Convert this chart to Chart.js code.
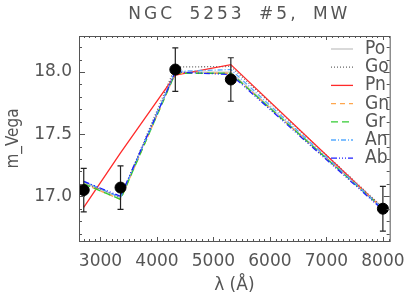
<!DOCTYPE html>
<html>
<head>
<meta charset="utf-8">
<script src="https://cdn.jsdelivr.net/npm/chart.js@4.4.0/dist/chart.umd.min.js"></script>
<style>
  html, body { margin: 0; padding: 0; background: #fff; }
  #wrap { width: 415px; height: 297px; }
</style>
</head>
<body>
<div id="wrap"><canvas id="sed" width="415" height="297"></canvas></div>
<script>
const titleText = "NGC 5253 #5, MW";
const wavelengths = [2704, 3355, 4325, 5308, 8000];
const observed = [17.05, 17.07, 18.02, 17.94, 16.90];
const obsErrors = [0.175, 0.175, 0.175, 0.175, 0.18];

const modelNames = ["Po", "Go", "Pn", "Gn", "Gr", "An", "Ab"];
const modelPo = [17.11, 16.99, 18.00, 18.00, 16.90];
const modelGo = [17.11, 16.99, 18.04, 18.045, 16.91];
const modelPn = [16.91, 17.35, 17.975, 18.06, 16.90];
const modelGn = [17.10, 16.975, 17.99, 17.99, 16.90];
const modelGr = [17.10, 16.975, 17.99, 17.99, 16.90];
const modelAn = [17.12, 16.99, 18.005, 18.02, 16.90];
const modelAb = [17.12, 17.00, 18.00, 17.98, 16.89];

const xTicks = [3000, 4000, 5000, 6000, 7000, 8000];
const yTicks = [17.0, 17.5, 18.0];

const axisColor = "#555";
const textColor = "#555";
const tickFont = { family: "DejaVu Sans", size: 17 };

const toPoints = (ys) => wavelengths.map((x, i) => ({ x, y: ys[i] }));

const modelStyles = [
  { color: "#c4c4c4", dash: [] },
  { color: "#666666", dash: [1, 2] },
  { color: "#ff2a2a", dash: [] },
  { color: "#ffa64d", dash: [5, 4] },
  { color: "#33cc33", dash: [7, 4] },
  { color: "#55aaff", dash: [5, 2, 1, 2] },
  { color: "#1f1fff", dash: [6, 2, 1, 2, 1, 2, 1, 2] },
];
const modelValues = [modelPo, modelGo, modelPn, modelGn, modelGr, modelAn, modelAb];

const datasets = modelNames.map((name, i) => ({
  label: name,
  data: toPoints(modelValues[i]),
  showLine: true,
  borderColor: modelStyles[i].color,
  borderDash: modelStyles[i].dash,
  borderWidth: 1.3,
  pointRadius: 0,
  fill: false,
  order: modelNames.length - i,
}));

datasets.push({
  label: "obs",
  data: toPoints(observed),
  showLine: false,
  backgroundColor: "#000",
  borderColor: "#000",
  pointRadius: 5.5,
  order: 0,
});

const obsIndex = datasets.length - 1;

const errorBars = {
  id: "errorBars",
  beforeDatasetDraw(chart, args) {
    if (args.index !== obsIndex) return;
    const { ctx, scales: { x, y } } = chart;
    ctx.save();
    ctx.strokeStyle = "#222";
    ctx.lineWidth = 1.2;
    wavelengths.forEach((w, i) => {
      const px = x.getPixelForValue(w);
      const top = y.getPixelForValue(observed[i] + obsErrors[i]);
      const bot = y.getPixelForValue(observed[i] - obsErrors[i]);
      ctx.beginPath();
      ctx.moveTo(px, top); ctx.lineTo(px, bot);
      ctx.moveTo(px - 3, top); ctx.lineTo(px + 3, top);
      ctx.moveTo(px - 3, bot); ctx.lineTo(px + 3, bot);
      ctx.stroke();
    });
    ctx.restore();
  },
};

// IDL-style box with inward ticks on all four sides, plus legend and title
const frame = {
  id: "frame",
  afterDraw(chart) {
    const { ctx, chartArea: a, scales: { x, y } } = chart;
    ctx.save();
    ctx.strokeStyle = axisColor;
    ctx.lineWidth = 1;
    ctx.strokeRect(a.left + 0.5, a.top + 0.5, a.right - a.left, a.bottom - a.top);
    ctx.beginPath();
    for (let v = 2700; v <= 8100; v += 100) {
      const px = Math.round(x.getPixelForValue(v)) + 0.5;
      const len = v % 1000 === 0 ? 4 : 2;
      ctx.moveTo(px, a.bottom); ctx.lineTo(px, a.bottom - len);
      ctx.moveTo(px, a.top); ctx.lineTo(px, a.top + len);
    }
    for (let k = 167; k <= 182; k++) {
      const v = k / 10;
      const py = Math.round(y.getPixelForValue(v)) + 0.5;
      const len = k % 5 === 0 ? 6 : 3;
      ctx.moveTo(a.left, py); ctx.lineTo(a.left + len, py);
      ctx.moveTo(a.right, py); ctx.lineTo(a.right - len, py);
    }
    ctx.stroke();

    // legend
    ctx.font = "19px 'DejaVu Sans Condensed', 'DejaVu Sans'";
    ctx.textAlign = "left";
    ctx.textBaseline = "middle";
    modelNames.forEach((name, i) => {
      const ly = 49 + i * 18.2;
      ctx.strokeStyle = modelStyles[i].color;
      ctx.setLineDash(modelStyles[i].dash);
      ctx.lineWidth = 1.3;
      ctx.beginPath();
      ctx.moveTo(331, ly); ctx.lineTo(353, ly);
      ctx.stroke();
      ctx.setLineDash([]);
      ctx.fillStyle = textColor;
      ctx.fillText(name, 365, ly);
    });

    // title
    ctx.font = "17px 'DejaVu Sans'";
    ctx.letterSpacing = "3px";
    ctx.wordSpacing = "6px";
    ctx.textAlign = "center";
    ctx.fillStyle = textColor;
    ctx.fillText(titleText, (a.left + a.right) / 2 + 5, 15);
    ctx.restore();
  },
};

new Chart(document.getElementById("sed"), {
  type: "scatter",
  data: { datasets },
  options: {
    responsive: false,
    animation: false,
    events: [],
    layout: { padding: { top: 36, right: 22, left: 0, bottom: 0 } },
    plugins: {
      legend: { display: false },
      title: { display: false },
      tooltip: { enabled: false },
    },
    scales: {
      x: {
        type: "linear",
        min: 2620,
        max: 8120,
        afterBuildTicks: (scale) => { scale.ticks = xTicks.map((value) => ({ value })); },
        afterFit: (scale) => { scale.height = 56; },
        grid: { display: false, drawTicks: false },
        border: { display: false },
        ticks: { color: textColor, font: tickFont, padding: 10, maxRotation: 0, callback: (v) => String(v) },
        title: {
          display: true,
          text: "λ (Å)",
          color: textColor,
          font: tickFont,
          padding: { top: 0, bottom: 1 },
        },
      },
      y: {
        type: "linear",
        min: 16.64,
        max: 18.29,
        afterBuildTicks: (scale) => { scale.ticks = yTicks.map((value) => ({ value })); },
        afterFit: (scale) => { scale.width = 79; },
        grid: { display: false, drawTicks: false },
        border: { display: false },
        ticks: { color: textColor, font: tickFont, padding: 7, callback: (v) => v.toFixed(1) },
        title: {
          display: true,
          text: "m_Vega",
          color: textColor,
          font: { family: "'DejaVu Sans Condensed', 'DejaVu Sans'", size: 17 },
          padding: { top: 3, bottom: 0 },
        },
      },
    },
  },
  plugins: [errorBars, frame],
});
</script>
</body>
</html>
